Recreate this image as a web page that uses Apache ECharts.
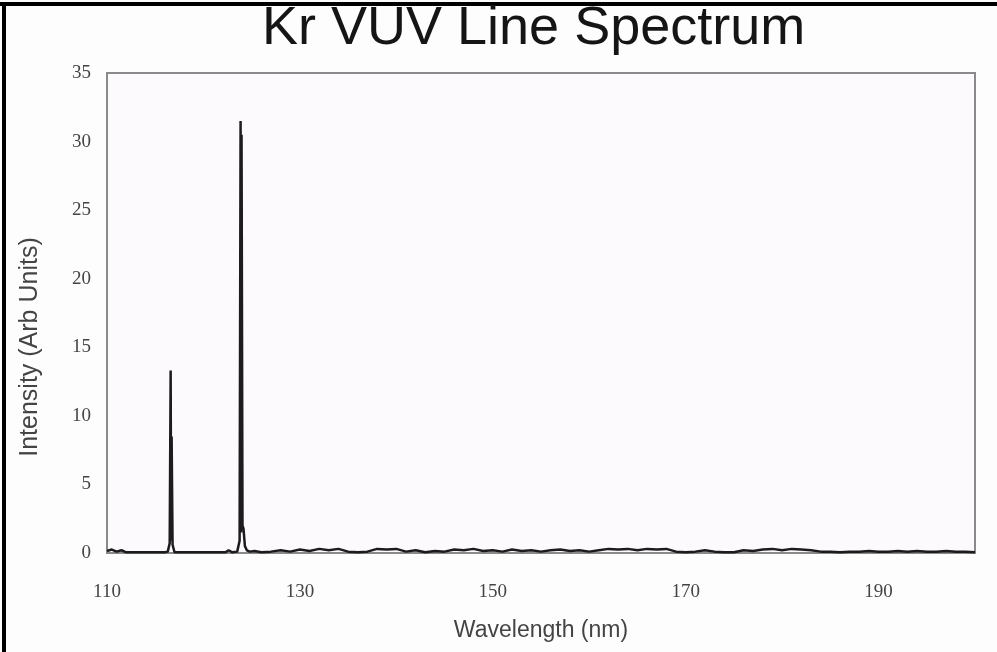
<!DOCTYPE html>
<html>
<head>
    <meta charset="utf-8">
    <title>Kr VUV Line Spectrum</title>
    <script src="https://cdn.jsdelivr.net/npm/echarts@6/dist/echarts.min.js"></script>
    <style>
        body { margin: 0; background: #fefdfe; }
        #main { width: 997px; height: 652px; }
    </style>
</head>
<body>
    <div id="main"></div>

    <script type="text/javascript">

        // wavelength (nm) and intensity
        var wavelength = [
            110, 110.5, 111, 111.5, 112, 113, 114, 115, 116, 116.3, 116.5, 116.6, 116.65, 116.7, 116.8, 117.0,
            117.5, 118.5, 119.5, 120.5, 121.5, 122.3, 122.6, 123.0, 123.5, 123.75, 123.85, 123.9, 123.95,
            124.05, 124.15, 124.3, 124.5, 124.8, 125.3, 126, 127, 128, 129, 130, 131, 132, 133, 134, 135,
            136, 137, 138, 139, 140, 141, 142, 143, 144, 145, 146, 147, 148, 149, 150, 151, 152, 153, 154,
            155, 156, 157, 158, 159, 160, 161, 162, 163, 164, 165, 166, 167, 168, 169, 170, 171, 172, 173,
            174, 175, 176, 177, 178, 179, 180, 181, 182, 183, 184, 185, 186, 187, 188, 189, 190, 191, 192,
            193, 194, 195, 196, 197, 198, 199, 200
        ];
        var intensity = [
            0.15, 0.25, 0.1, 0.2, 0.05, 0.05, 0.05, 0.05, 0.05, 0.1, 0.7, 13.3, 0.9, 8.5, 0.6, 0.05,
            0.05, 0.05, 0.05, 0.05, 0.05, 0.05, 0.2, 0.05, 0.1, 0.9, 31.5, 1.5, 30.5,
            2.0, 1.8, 0.5, 0.2, 0.1, 0.15, 0.05, 0.1, 0.2, 0.1, 0.25, 0.15, 0.3, 0.2, 0.3, 0.1,
            0.05, 0.1, 0.3, 0.25, 0.3, 0.1, 0.2, 0.05, 0.15, 0.1, 0.25, 0.2, 0.3, 0.15, 0.2, 0.1, 0.25, 0.15, 0.2,
            0.1, 0.2, 0.25, 0.15, 0.2, 0.1, 0.2, 0.3, 0.25, 0.3, 0.2, 0.3, 0.25, 0.3, 0.1, 0.05, 0.1, 0.2, 0.1,
            0.05, 0.05, 0.2, 0.15, 0.25, 0.3, 0.2, 0.3, 0.25, 0.2, 0.1, 0.1, 0.05, 0.1, 0.1, 0.15, 0.1, 0.1, 0.15,
            0.1, 0.15, 0.1, 0.1, 0.15, 0.1, 0.1, 0.05
        ];

        var xTicks = [110, 130, 150, 170, 190];
        var yTicks = [0, 5, 10, 15, 20, 25, 30, 35];

        var points = wavelength.map(function(w, i) {
            return [w, intensity[i]];
        });

        var myChart = echarts.init(document.getElementById('main'));

        myChart.setOption({
            backgroundColor: '#fefdfe',
            animation: false,
            title: {
                text: 'Kr VUV Line Spectrum',
                left: 262,
                top: 2,
                padding: 0,
                textStyle: {
                    fontFamily: 'Liberation Sans',
                    fontWeight: 'normal',
                    fontSize: 54,
                    color: '#151515'
                }
            },
            grid: {
                left: 107,
                right: 22,
                top: 73,
                bottom: 99,
                show: true,
                backgroundColor: '#fdfafd',
                borderColor: '#8a8a8a',
                borderWidth: 2
            },
            xAxis: {
                type: 'value',
                min: 110,
                max: 200,
                interval: 20,
                name: 'Wavelength (nm)',
                nameLocation: 'middle',
                nameGap: 66,
                nameTextStyle: {
                    fontFamily: 'Liberation Sans',
                    fontSize: 23,
                    color: '#444'
                },
                axisLine: { lineStyle: { color: '#8a8a8a', width: 2 } },
                axisTick: { show: false },
                splitLine: { show: false },
                axisLabel: {
                    margin: 30,
                    fontFamily: 'Liberation Serif',
                    fontSize: 19,
                    color: '#444',
                    formatter: function(v) {
                        return xTicks.indexOf(v) >= 0 ? String(v) : '';
                    }
                }
            },
            yAxis: {
                type: 'value',
                min: 0,
                max: 35,
                interval: 5,
                name: 'Intensity (Arb Units)',
                nameLocation: 'middle',
                nameGap: 64,
                nameTextStyle: {
                    fontFamily: 'Liberation Sans',
                    fontSize: 25,
                    color: '#444',
                    padding: [0, 68, 0, 0]
                },
                axisLine: { show: true, lineStyle: { color: '#8a8a8a', width: 2 } },
                axisTick: { show: false },
                splitLine: { show: false },
                axisLabel: {
                    margin: 16,
                    fontFamily: 'Liberation Serif',
                    fontSize: 19,
                    color: '#444',
                    formatter: function(v) {
                        return yTicks.indexOf(v) >= 0 ? String(v) : '';
                    }
                }
            },
            series: [
                {
                    name: 'Kr',
                    type: 'line',
                    data: points,
                    showSymbol: false,
                    lineStyle: { color: '#1c1c1c', width: 2.5 }
                }
            ],
            graphic: [
                { type: 'rect', left: 0, top: 2, shape: { width: 997, height: 4 }, style: { fill: '#000' } },
                { type: 'rect', left: 2, top: 2, shape: { width: 4, height: 650 }, style: { fill: '#000' } }
            ]
        });
    </script>
</body>
</html>
